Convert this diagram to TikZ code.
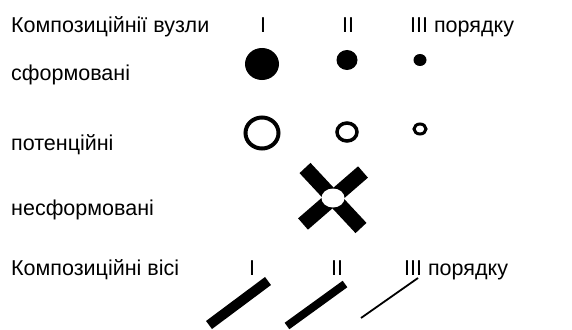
\documentclass[tikz,border=0pt]{standalone}
\usepackage{fontspec}
\setmainfont{Liberation Sans}
\usepackage{tikz}
\usetikzlibrary{shapes.geometric, positioning}
\tikzstyle{legendtext} = [inner sep=0pt, font=\fontsize{21.5}{24}\selectfont]
\tikzstyle{knot} = [ellipse, inner sep=0pt, fill=black]
\tikzstyle{ring} = [ellipse, inner sep=0pt, draw=black]
\tikzstyle{axisbar} = [line cap=butt, draw=black]

\begin{document}
\begin{tikzpicture}[x=1pt, y=-1pt]
\useasboundingbox (0,0) rectangle (572,329);

% Headings
\node (knots) [legendtext, anchor=base west] at (11,33) {Композиційнії вузли};
\node (k1) [legendtext, anchor=base] at (263,33) {I};
\node (k2) [legendtext, anchor=base] at (348,33) {II};
\node (k3) [legendtext, anchor=base west] at (410,33) {III порядку};

% Formed knots
\node (formed) [legendtext, anchor=base west] at (11,80) {сформовані};
\node (f1) [knot, minimum width=34pt, minimum height=32pt] at (262,64) {};
\node (f2) [knot, minimum width=21pt, minimum height=20pt] at (347,60) {};
\node (f3) [knot, minimum width=13pt, minimum height=12pt] at (420,60) {};

% Potential knots
\node (potential) [legendtext, anchor=base west] at (11,150) {потенційні};
\node (p1) [ring, line width=4pt, minimum width=33pt, minimum height=31pt] at (262,133) {};
\node (p2) [ring, line width=3.5pt, minimum width=20pt, minimum height=18pt] at (347,132) {};
\node (p3) [ring, line width=3pt, minimum width=12pt, minimum height=10pt] at (420,129) {};

% Unformed knot
\node (unformed) [legendtext, anchor=base west] at (11,215) {несформовані};
\coordinate (c) at (333,198);
\coordinate (ca) at (305,168);
\coordinate (cb) at (361,228);
\coordinate (cc) at (363,172);
\coordinate (cd) at (303,224);
\draw [axisbar, line width=15pt] (ca) -- (cb);
\draw [axisbar, line width=15pt] (cc) -- (cd);
\node (hole) [ellipse, inner sep=0pt, fill=white, minimum width=23pt, minimum height=19pt] at (c) {};

% Axes
\node (axes) [legendtext, anchor=base west] at (11,275) {Композиційні вісі};
\node (a1) [legendtext, anchor=base] at (252,275) {I};
\node (a2) [legendtext, anchor=base] at (337,275) {II};
\node (a3) [legendtext, anchor=base west] at (404,275) {III порядку};
\coordinate (a1s) at (209,325);
\coordinate (a1e) at (268,281);
\coordinate (a2s) at (287,326);
\coordinate (a2e) at (345,284);
\coordinate (a3s) at (361,318);
\coordinate (a3e) at (418,278);
\draw [axisbar, line width=10pt] (a1s) -- (a1e);
\draw [axisbar, line width=8pt] (a2s) -- (a2e);
\draw [axisbar, line width=1.8pt] (a3s) -- (a3e);

\end{tikzpicture}
\end{document}
